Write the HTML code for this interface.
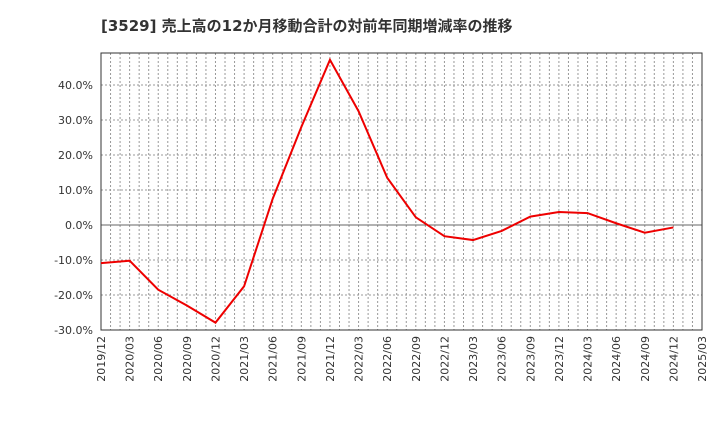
<!DOCTYPE html>
<html><head><meta charset="utf-8"><style>body{margin:0;background:#fff}svg text{font-family:"DejaVu Sans","Noto Sans CJK JP",sans-serif}</style></head>
<body>
<svg id="c" width="720" height="440" xmlns="http://www.w3.org/2000/svg">
<text x="101" y="31" font-size="15" font-weight="bold" fill="#333">[3529]  売上高の12か月移動合計の対前年同期増減率の推移</text>
<g id="grid"></g><g id="axes"></g><g id="series"></g>
</svg>
<script>
const categories=["2019/12","2020/03","2020/06","2020/09","2020/12","2021/03","2021/06","2021/09","2021/12","2022/03","2022/06","2022/09","2022/12","2023/03","2023/06","2023/09","2023/12","2024/03","2024/06","2024/09","2024/12"];
const values=[-10.9,-10.2,-18.5,-23,-27.9,-17.5,7.5,28,47.2,32.5,13.5,2.2,-3.2,-4.3,-1.7,2.4,3.7,3.4,0.5,-2.2,-0.7];
const xTickLabels=["2019/12","2020/03","2020/06","2020/09","2020/12","2021/03","2021/06","2021/09","2021/12","2022/03","2022/06","2022/09","2022/12","2023/03","2023/06","2023/09","2023/12","2024/03","2024/06","2024/09","2024/12","2025/03"];
const yTicks=[-30,-20,-10,0,10,20,30,40];
const L=101,R=702,T=53,B=330;
const x=i=>L+(R-L)*i/21;
const y=v=>225-v*3.5;
const ns="http://www.w3.org/2000/svg";
function mk(p,t,a){const e=document.createElementNS(ns,t);for(const k in a)e.setAttribute(k,a[k]);p.appendChild(e);return e;}
const g=document.getElementById('grid'),ax=document.getElementById('axes'),s=document.getElementById('series');
for(let m=1;m<63;m++){const xx=L+(R-L)*m/63;const l=mk(g,'line',{x1:xx,x2:xx,y1:T,y2:B,stroke:'#999','stroke-dasharray':'2,2','stroke-width':1});

}
yTicks.forEach(v=>{const yy=y(v);const l=mk(g,'line',{x1:L,x2:R,y1:yy,y2:yy,stroke:v===0?'#666':'#999','stroke-dasharray':v===0?'':'2,2','stroke-width':1});


const t=mk(ax,'text',{x:L-8,y:yy+4,'text-anchor':'end','font-size':11,fill:'#333'});t.textContent=v.toFixed(1)+'%';

});
const fr=mk(ax,'rect',{x:L,y:T,width:R-L,height:B-T,fill:'none',stroke:'#333','stroke-width':1});


xTickLabels.forEach((c,i)=>{const xx=x(i);const t=mk(ax,'text',{x:xx+4,y:B+6,'text-anchor':'end','font-size':11,fill:'#333',transform:`rotate(-90 ${xx+4} ${B+6})`});t.textContent=c;

});
const pl=mk(s,'polyline',{points:values.map((v,i)=>x(i)+','+y(v)).join(' '),fill:'none',stroke:'#e00','stroke-width':2});


</script>
</body></html>
